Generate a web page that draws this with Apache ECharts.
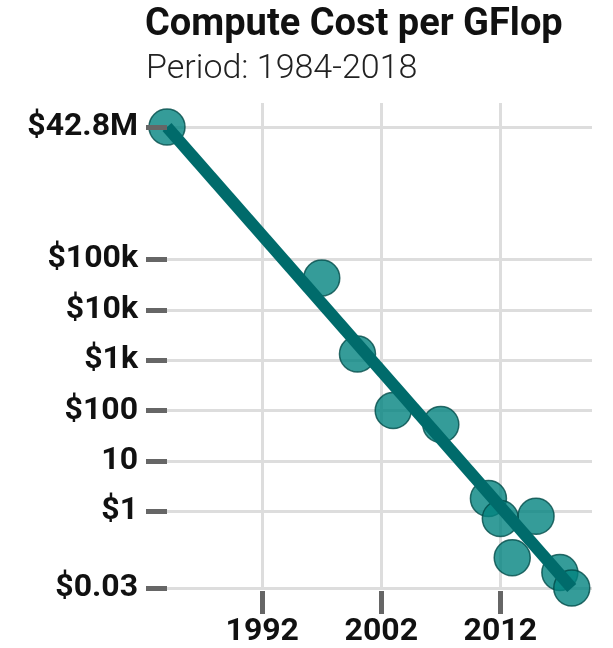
<!DOCTYPE html>
<html lang="en">
<head>
    <meta charset="UTF-8">
    <title>Compute Cost per GFlop</title>
    <script src="https://cdn.jsdelivr.net/npm/echarts@6/dist/echarts.min.js"></script>
    <style type="text/css">
        html, body {
            margin: 0;
            width: 100%;
            height: 100%;
            background: #fff;
        }
        #chart {
            width: 613px;
            height: 648px;
        }
    </style>
</head>
<body>
<div id="chart"></div>
<script type="text/javascript">
    // cost per GFlop (2017 dollars)
    var years = [1984, 1997, 2000, 2003, 2007, 2011, 2012, 2013, 2015, 2017, 2018];
    var costs = [42800000, 43000, 1330, 100, 53, 1.8, 0.72, 0.12, 0.8, 0.061, 0.03];

    // trend line, first to last
    var trendYears = [1984, 2018];
    var trendCosts = [42800000, 0.03];

    var yTickValues = [0.03, 1, 10, 100, 1000, 10000, 100000, 42800000];
    var yTickLabels = ['$0.03', '$1', '10', '$100', '$1k', '$10k', '$100k', '$42.8M'];
    var xTickValues = [1992, 2002, 2012];

    var font = 'Roboto';

    function pairs(xs, ys) {
        var out = [];
        for (var i = 0; i < xs.length; i++) {
            out.push([xs[i], ys[i]]);
        }
        return out;
    }

    function yLabel(v) {
        // nearest tick in log space
        var best = 0;
        for (var i = 0; i < yTickValues.length; i++) {
            if (Math.abs(Math.log(v) - Math.log(yTickValues[i])) <
                Math.abs(Math.log(v) - Math.log(yTickValues[best]))) {
                best = i;
            }
        }
        return yTickLabels[best];
    }

    var yBase = {
        type: 'log',
        logBase: 10,
        min: 0.03,
        max: 128000000,
        axisLine: {show: false}
    };

    var myChart = echarts.init(document.getElementById('chart'));
    var option = {
        animation: false,
        title: [
            {
                text: 'Compute Cost per GFlop',
                left: 145,
                top: 6,
                padding: 0,
                textStyle: {fontFamily: font, fontSize: 38, fontWeight: 'bold', color: '#111'}
            },
            {
                text: 'Period: 1984-2018',
                left: 146,
                top: 52,
                padding: 0,
                textStyle: {fontFamily: font, fontSize: 34, fontWeight: 300, color: '#222'}
            }
        ],
        grid: {
            left: 167,
            right: 21,
            top: 103,
            bottom: 58
        },
        xAxis: {
            type: 'value',
            min: 1984,
            max: 2019.7,
            offset: 3,
            axisLine: {show: false},
            axisTick: {
                show: true,
                length: 23,
                customValues: xTickValues,
                lineStyle: {color: '#666', width: 5}
            },
            axisLabel: {
                customValues: xTickValues,
                margin: 25,
                formatter: function (v) { return String(v); },
                fontFamily: font,
                fontSize: 32,
                fontWeight: 'bold',
                color: '#111'
            },
            splitLine: {
                show: true,
                lineStyle: {color: '#ddd', width: 3}
            }
        },
        yAxis: [
            // gridlines only, under the points
            Object.assign({}, yBase, {
                z: 0,
                axisTick: {show: false, customValues: yTickValues},
                axisLabel: {show: false, customValues: yTickValues},
                splitLine: {show: true, lineStyle: {color: '#ddd', width: 3}}
            }),
            // ticks and labels, over the points
            Object.assign({}, yBase, {
                z: 10,
                position: 'left',
                axisTick: {
                    show: true,
                    length: 21,
                    customValues: yTickValues,
                    lineStyle: {color: '#666', width: 5}
                },
                axisLabel: {
                    customValues: yTickValues,
                    margin: 29,
                    formatter: yLabel,
                    fontFamily: font,
                    fontSize: 32,
                    fontWeight: 'bold',
                    color: '#111'
                },
                splitLine: {show: false}
            })
        ],
        series: [
            {
                type: 'scatter',
                yAxisIndex: 0,
                data: pairs(years, costs),
                symbol: 'circle',
                symbolSize: 36,
                z: 2,
                itemStyle: {
                    color: '#03837f',
                    borderColor: '#004b48',
                    borderWidth: 1.5,
                    opacity: 0.8
                }
            },
            {
                type: 'line',
                yAxisIndex: 0,
                data: pairs(trendYears, trendCosts),
                symbol: 'none',
                z: 3,
                lineStyle: {color: '#006b6b', width: 12, cap: 'butt'}
            }
        ]
    };
    myChart.setOption(option);
</script>
</body>
</html>
